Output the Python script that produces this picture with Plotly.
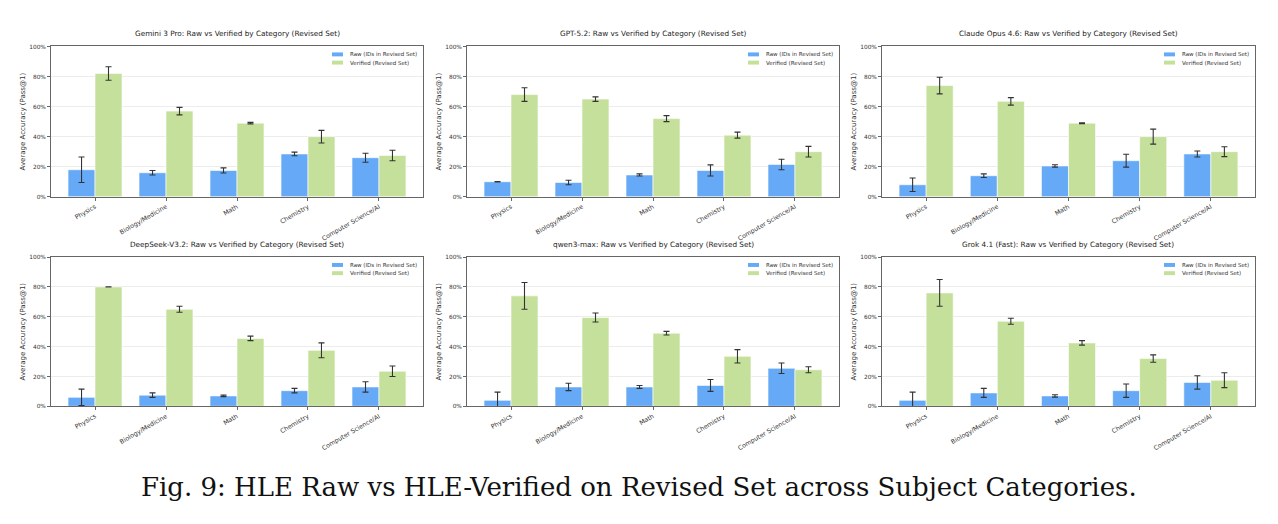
import plotly.graph_objects as go

categories = ["Physics", "Biology/Medicine", "Math", "Chemistry", "Computer Science/AI"]
models = ["Gemini 3 Pro", "GPT-5.2", "Claude Opus 4.6", "DeepSeek-V3.2", "qwen3-max", "Grok 4.1 (Fast)"]
y_ticks = [0, 20, 40, 60, 80, 100]
y_tick_labels = ["0%", "20%", "40%", "60%", "80%", "100%"]

gemini_raw = [18.0, 16.0, 17.5, 28.5, 26.0]
gemini_raw_err = [8.5, 1.5, 1.7, 1.2, 3.0]
gemini_ver = [82.0, 57.0, 49.0, 40.0, 27.5]
gemini_ver_err = [4.5, 2.5, 0.5, 4.2, 3.5]

gpt_raw = [10.0, 9.5, 14.5, 17.5, 21.5]
gpt_raw_err = [0.2, 1.5, 0.7, 3.7, 3.5]
gpt_ver = [68.0, 65.0, 52.0, 41.0, 30.0]
gpt_ver_err = [4.5, 1.5, 2.0, 2.0, 3.5]

claude_raw = [8.0, 14.0, 20.5, 24.0, 28.5]
claude_raw_err = [4.5, 1.2, 0.8, 4.3, 2.0]
claude_ver = [74.0, 63.5, 49.0, 40.0, 30.0]
claude_ver_err = [5.5, 2.5, 0.3, 5.0, 3.3]

deepseek_raw = [6.0, 7.5, 7.0, 10.5, 13.0]
deepseek_raw_err = [5.5, 1.5, 0.5, 1.5, 3.5]
deepseek_ver = [80.0, 65.0, 45.5, 37.5, 23.5]
deepseek_ver_err = [0.1, 2.0, 1.5, 5.0, 3.5]

qwen_raw = [4.0, 13.0, 13.0, 14.0, 25.5]
qwen_raw_err = [5.5, 2.5, 1.0, 4.0, 3.5]
qwen_ver = [74.0, 59.5, 49.0, 33.5, 24.5]
qwen_ver_err = [9.0, 3.0, 1.2, 4.5, 2.0]

grok_raw = [4.0, 9.0, 7.0, 10.5, 16.0]
grok_raw_err = [5.5, 3.0, 0.8, 4.5, 4.5]
grok_ver = [76.0, 57.0, 42.5, 32.0, 17.5]
grok_ver_err = [9.0, 2.0, 1.5, 2.5, 5.0]

raw_series = [gemini_raw, gpt_raw, claude_raw, deepseek_raw, qwen_raw, grok_raw]
raw_errors = [gemini_raw_err, gpt_raw_err, claude_raw_err, deepseek_raw_err, qwen_raw_err, grok_raw_err]
ver_series = [gemini_ver, gpt_ver, claude_ver, deepseek_ver, qwen_ver, grok_ver]
ver_errors = [gemini_ver_err, gpt_ver_err, claude_ver_err, deepseek_ver_err, qwen_ver_err, grok_ver_err]

RAW_NAME = "Raw (IDs in Revised Set)"
VER_NAME = "Verified (Revised Set)"
BLUE = "#66AAF7"
GREEN = "#C5E09B"

W, H = 1278, 524
col_px = [(51, 423), (467, 839), (882, 1255)]
row_px = [(44, 196), (257, 408)]
title_px = [31, 244]

fig = go.Figure()
FONT = "DejaVu Sans"

for i, model in enumerate(models):
    r, c = divmod(i, 3)
    n = "" if i == 0 else str(i + 1)
    xa, ya = "x" + n, "y" + n
    x0, x1 = col_px[c]
    y0, y1 = row_px[r]
    xd = [x0 / W, x1 / W]
    yd = [1 - y1 / H, 1 - y0 / H]
    err_style = dict(type="data", visible=True, color="#333333", thickness=1.1, width=3)
    fig.add_trace(go.Bar(
        x=categories, y=raw_series[i], name=RAW_NAME, xaxis=xa, yaxis=ya,
        marker=dict(color=BLUE, line=dict(color="white", width=0.6)),
        error_y=dict(array=raw_errors[i], **err_style), showlegend=False,
        offsetgroup="raw",
    ))
    fig.add_trace(go.Bar(
        x=categories, y=ver_series[i], name=VER_NAME, xaxis=xa, yaxis=ya,
        marker=dict(color=GREEN, line=dict(color="white", width=0.6)),
        error_y=dict(array=ver_errors[i], **err_style), showlegend=False,
        offsetgroup="ver",
    ))
    axis_common = dict(showline=True, mirror=True, linecolor="#666666", linewidth=1,
                       ticks="outside", ticklen=3, tickwidth=0.8, tickcolor="#666666")
    fig.update_layout(**{
        ("xaxis" + n): dict(domain=xd, anchor=ya, type="category", range=[-0.62, 4.62],
                            tickangle=-30, showgrid=False,
                            tickfont=dict(family=FONT, size=6.3, color="#333333"),
                            **axis_common),
        ("yaxis" + n): dict(domain=yd, anchor=xa, range=[0, 100], tickmode="array",
                            tickvals=y_ticks, ticktext=y_tick_labels,
                            showgrid=True, gridcolor="#ECECEC", gridwidth=0.8,
                            zeroline=False,
                            tickfont=dict(family=FONT, size=5.8, color="#333333"),
                            title=dict(text="Average Accuracy (Pass@1)",
                                       font=dict(family=FONT, size=7, color="#333333"),
                                       standoff=2),
                            **axis_common),
    })
    fig.add_annotation(text=f"{model}: Raw vs Verified by Category (Revised Set)",
                       xref="paper", yref="paper", x=(xd[0] + xd[1]) / 2, y=1 - title_px[r] / H,
                       showarrow=False, xanchor="center", yanchor="middle",
                       font=dict(family=FONT, size=7.3, color="#222222"))
    # legend (drawn inside the upper right of each panel)
    aw = x1 - x0
    ah = y1 - y0
    for k, (label, col) in enumerate([(RAW_NAME, BLUE), (VER_NAME, GREEN)]):
        yc = 1 - (8 + 8.3 * k) / ah
        fig.add_shape(type="rect", xref=xa + " domain", yref=ya + " domain",
                      x0=1 - 91 / aw, x1=1 - 80 / aw, y0=yc - 2 / ah, y1=yc + 2 / ah,
                      fillcolor=col, line=dict(width=0))
        fig.add_annotation(text=label, xref=xa + " domain", yref=ya + " domain",
                           x=1 - 75 / aw, y=yc, showarrow=False, xanchor="left", yanchor="middle",
                           font=dict(family=FONT, size=5.5, color="#333333"))

fig.add_annotation(text="Fig. 9: HLE Raw vs HLE-Verified on Revised Set across Subject Categories.",
                   xref="paper", yref="paper", x=0.5, y=1 - 490 / H, showarrow=False,
                   xanchor="center", yanchor="middle",
                   font=dict(family="DejaVu Serif", size=26, color="#111111"))

fig.update_layout(width=W, height=H, margin=dict(l=0, r=0, t=0, b=0),
                  paper_bgcolor="white", plot_bgcolor="white",
                  barmode="group", bargap=0.24, bargroupgap=0,
                  font=dict(family=FONT), showlegend=False)

fig.write_html("out.html")
